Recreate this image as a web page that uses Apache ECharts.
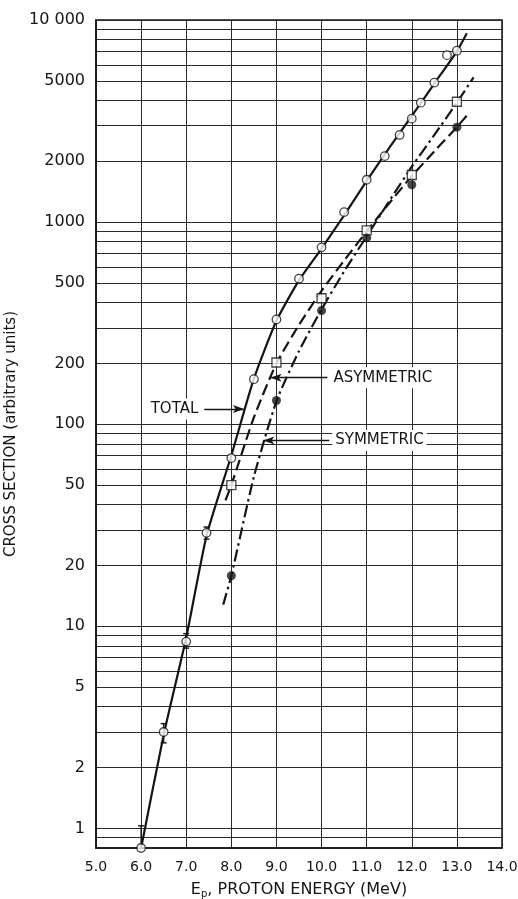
<!DOCTYPE html>
<html>
<head>
<meta charset="utf-8">
<script src="https://cdn.jsdelivr.net/npm/echarts@6/dist/echarts.min.js"></script>
<style>
html,body{margin:0;padding:0;background:#fff;}
#c{width:518px;height:899px;}
</style>
</head>
<body>
<div id="c"></div>
<script>
// ---- data ----
const xTickValues = [5, 6, 7, 8, 9, 10, 11, 12, 13, 14];
const yGridValues = [0.9, 1, 2, 3, 4, 5, 6, 7, 8, 9,
  10, 20, 30, 40, 50, 60, 70, 80, 90,
  100, 200, 300, 400, 500, 600, 700, 800, 900,
  1000, 2000, 3000, 4000, 5000, 6000, 7000, 8000, 9000, 10000];
const yLabelValues = [1, 2, 5, 10, 20, 50, 100, 200, 500, 1000, 2000, 5000, 10000];

// measured points
const totalPoints = [[6.0,0.8],[6.5,3.0],[7.0,8.4],[7.45,29],[8.0,68],[8.5,167],[9.0,330],[9.5,525],
  [10.0,750],[10.5,1120],[11.0,1620],[11.4,2120],[11.73,2700],[12.0,3250],[12.2,3900],[12.5,4900],[12.78,6700],[13.0,7050]];
const asymPoints = [[8.0,50],[9.0,202],[10.0,420],[11.0,910],[12.0,1710],[13.0,3940]];
const symPoints = [[8.0,17.8],[9.0,131],[10.0,365],[11.0,835],[12.0,1530],[13.0,2950]];
// error bars: [x, low, high]
const totalErrors = [[6.0,0.8,1.03],[6.5,2.65,3.3],[7.0,7.8,9.2],[7.45,27,31]];

// drawn curves
const totalCurve = [[6.0,0.8],[6.5,2.9],[7.0,8.8],[7.45,28],[8.0,70],[8.5,168],[9.0,325],[9.5,515],
  [10.0,740],[10.5,1080],[11.0,1600],[11.5,2330],[12.0,3350],[12.5,4850],[13.0,7000],[13.22,8600]];
const dashedCurve = [[7.87,42],[8.0,50],[8.5,108],[9.0,200],[9.5,310],[10.0,457],[10.5,645],[11.0,900],
  [11.5,1240],[12.0,1690],[12.5,2240],[13.0,2950],[13.27,3470]];
const dashDotCurve = [[7.82,12.8],[8.0,17.8],[8.5,55],[9.0,130],[9.5,230],[10.0,370],[10.5,570],[11.0,850],
  [11.5,1270],[12.0,1880],[12.5,2700],[13.0,3900],[13.37,5200]];

// annotation arrows: [labelX, arrowHeadX, y]
const totalArrow = [7.4, 8.28, 119];
const asymArrow = [10.13, 8.87, 170];
const symArrow = [10.17, 8.71, 83];

const FONT = '"DejaVu Sans", sans-serif';
const INK = '#151515';

function arrowLine(a, text) {
  return [
    { coord: [a[0], a[2]], label: { formatter: text } },
    { coord: [a[1], a[2]] }
  ];
}

const curveBase = { type: 'line', smooth: 0.2, symbol: 'none', z: 3 };

const chart = echarts.init(document.getElementById('c'), null, { renderer: 'canvas' });
chart.setOption({
  animation: false,
  backgroundColor: '#fff',
  grid: { left: 96, right: 16, top: 20, bottom: 51, containLabel: false, outerBoundsMode: 'none',
    show: true, borderColor: INK, borderWidth: 1.5, backgroundColor: 'transparent' },
  xAxis: {
    type: 'value', min: 5, max: 14, interval: 1,
    axisLine: { show: true, lineStyle: { color: INK, width: 1.5 } },
    axisTick: { show: false },
    splitLine: { show: true, lineStyle: { color: '#2a2a2a', width: 1 } },
    axisLabel: { color: INK, fontFamily: FONT, fontSize: 14, margin: 12, formatter: v => v.toFixed(1) },
    name: '{e|E}{s|p}{e|, PROTON ENERGY (MeV)}',
    nameLocation: 'middle', nameGap: 32,
    nameTextStyle: {
      rich: {
        e: { fontFamily: FONT, fontSize: 16, color: INK },
        s: { fontFamily: FONT, fontSize: 10, color: INK, verticalAlign: 'bottom', padding: [9, 0, 0, 0] }
      }
    }
  },
  yAxis: {
    type: 'log', logBase: 10, min: 0.8, max: 10000,
    axisLine: { show: true, lineStyle: { color: INK, width: 1.5 } },
    axisTick: { show: false, customValues: yGridValues },
    splitLine: { show: true, lineStyle: { color: '#2a2a2a', width: 1 } },
    axisLabel: {
      customValues: yLabelValues, color: INK, fontFamily: FONT, fontSize: 16, margin: 11,
      formatter: v => { const r = Math.round(v); return r === 10000 ? '10 000' : String(r); }
    },
    name: 'CROSS SECTION (arbitrary units)',
    nameLocation: 'middle', nameGap: 58,
    nameTextStyle: { fontFamily: FONT, fontSize: 15, color: INK }
  },
  series: [
    Object.assign({ name: 'total curve', data: totalCurve, lineStyle: { color: INK, width: 2.2 } }, curveBase),
    Object.assign({ name: 'dashed curve', data: dashedCurve, lineStyle: { color: INK, width: 2.2, type: [11, 5] } }, curveBase),
    Object.assign({ name: 'dash-dot curve', data: dashDotCurve, lineStyle: { color: INK, width: 2.2, type: [12, 4, 2.5, 4] } }, curveBase),
    { name: 'errors', type: 'custom', data: totalErrors, encode: { x: 0, y: [1, 2] }, z: 4,
      renderItem: (params, api) => {
        const x = api.value(0);
        const lo = api.coord([x, api.value(1)]);
        const hi = api.coord([x, api.value(2)]);
        const st = { stroke: INK, lineWidth: 1.4 };
        return { type: 'group', children: [
          { type: 'line', shape: { x1: lo[0], y1: lo[1], x2: hi[0], y2: hi[1] }, style: st },
          { type: 'line', shape: { x1: hi[0] - 3, y1: hi[1], x2: hi[0] + 3, y2: hi[1] }, style: st },
          { type: 'line', shape: { x1: lo[0] - 3, y1: lo[1], x2: lo[0] + 3, y2: lo[1] }, style: st }
        ]};
      } },
    { name: 'TOTAL', type: 'scatter', data: totalPoints, symbol: 'circle', symbolSize: 8.5,
      itemStyle: { color: '#fff', borderColor: INK, borderWidth: 1.3 }, z: 5,
      markLine: {
        silent: true, symbol: ['none', 'arrow'], symbolSize: [6, 11],
        lineStyle: { color: INK, width: 1.3, type: 'solid' },
        label: { show: true, position: 'start', distance: 3, color: INK, fontFamily: FONT, fontSize: 15,
          backgroundColor: '#fff', padding: [3, 3] },
        data: [arrowLine(totalArrow, 'TOTAL'), arrowLine(asymArrow, 'ASYMMETRIC'), arrowLine(symArrow, 'SYMMETRIC')]
      } },
    { name: 'ASYMMETRIC', type: 'scatter', data: asymPoints, symbol: 'rect', symbolSize: 9,
      itemStyle: { color: '#fff', borderColor: INK, borderWidth: 1.3 }, z: 5 },
    { name: 'SYMMETRIC', type: 'scatter', data: symPoints, symbol: 'circle', symbolSize: 9,
      itemStyle: { color: INK }, z: 5 }
  ]
});
</script>
</body>
</html>
